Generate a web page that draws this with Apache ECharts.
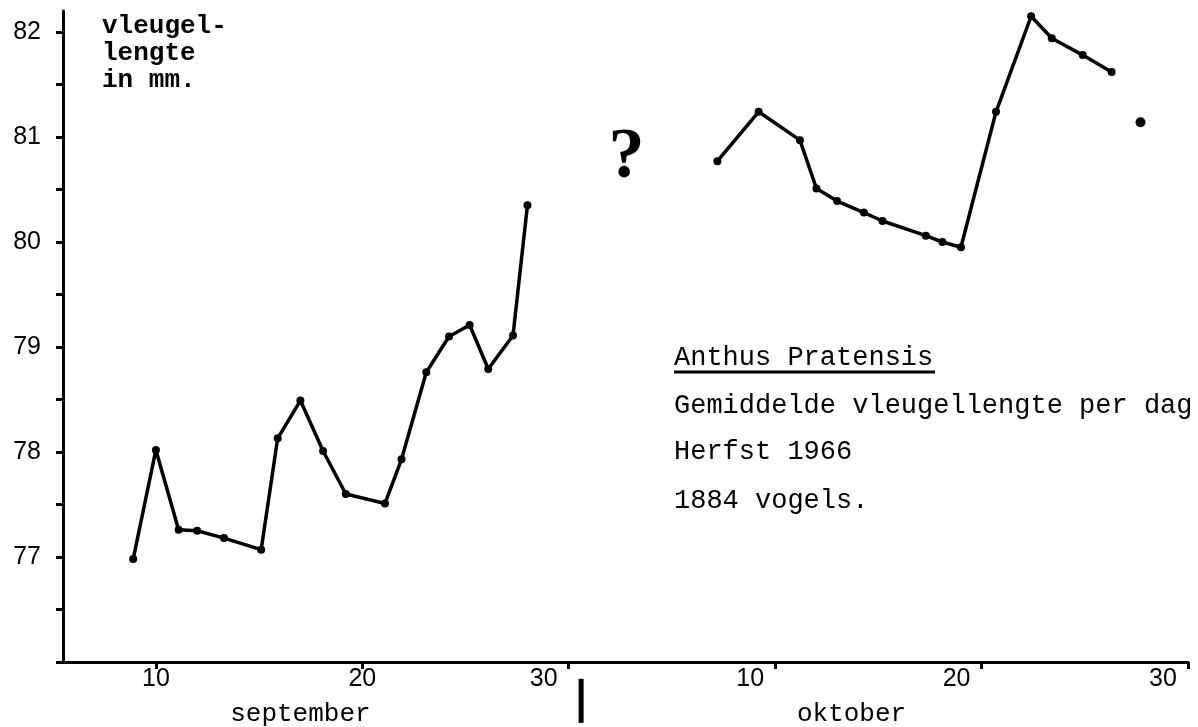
<!DOCTYPE html>
<html>
<head>
<meta charset="utf-8">
<script src="https://cdn.jsdelivr.net/npm/echarts@6.0.0/dist/echarts.min.js"></script>
<style>
  html, body { margin: 0; padding: 0; background: #fff; }
  #main { width: 1198px; height: 727px; }
</style>
</head>
<body>
<div id="main"></div>
<script>
// ---- data (x = day number, Sept d -> d, Oct d -> 30 + d) ----
const septDays = [8.9, 10.0, 11.1, 12.0, 13.3, 15.1, 15.9, 17.0, 18.1, 19.2, 21.1, 21.9, 23.1, 24.2, 25.2, 26.1, 27.3, 28.0];
const septWing = [76.98, 78.02, 77.26, 77.25, 77.18, 77.07, 78.13, 78.49, 78.01, 77.60, 77.51, 77.93, 78.76, 79.10, 79.21, 78.79, 79.11, 80.35];
const octDays = [37.2, 39.2, 41.2, 42.0, 43.0, 44.3, 45.2, 47.3, 48.1, 49.0, 50.7, 52.4, 53.4, 54.9, 56.3];
const octWing = [80.77, 81.24, 80.97, 80.51, 80.39, 80.28, 80.20, 80.06, 80.00, 79.95, 81.24, 82.15, 81.94, 81.78, 81.62];
const loneDay = [57.7];
const loneWing = [81.14];
const questionDay = [32.8];
const questionWing = [80.80];
const monthBreakDay = [30.6];

const xTickDays = [10, 20, 30, 40, 50, 60];
const xTickLabels = ['10', '20', '30', '10', '20', '30'];
const monthNames = ['september', 'oktober'];
const monthMidDays = [17, 43.7];
const yLabelValues = [77, 78, 79, 80, 81, 82];
const yTickValues = [76, 76.5, 77, 77.5, 78, 78.5, 79, 79.5, 80, 80.5, 81, 81.5, 82];

const titleLines = ['Anthus Pratensis', 'Gemiddelde vleugellengte per dag', 'Herfst 1966', '1884 vogels.'];
const yAxisTitle = 'vleugel-\nlengte\nin mm.';

// ---- chart ----
const zip = (a, b) => a.map((v, i) => [v, b[i]]);
const chart = echarts.init(document.getElementById('main'), null, { renderer: 'canvas' });

const MONO = '"Liberation Mono", "DejaVu Sans Mono", monospace';
const SANS = '"Liberation Sans", Arial, sans-serif';

const lineSeries = (d, w) => ({
  type: 'line',
  data: zip(d, w),
  clip: false,
  symbol: 'circle',
  symbolSize: 8,
  lineStyle: { color: '#000', width: 3.5 },
  itemStyle: { color: '#000', opacity: 1 },
  z: 5
});

const option = {
  backgroundColor: '#ffffff',
  animation: false,
  grid: { left: 63, right: 10, top: 11, bottom: 62, containLabel: false },
  xAxis: [{
    type: 'value', min: 5.5, max: 60,
    axisLine: { show: true, onZero: false, lineStyle: { color: '#000', width: 3 } },
    axisTick: { show: true, customValues: xTickDays, length: 7, lineStyle: { color: '#000', width: 3 } },
    axisLabel: {
      customValues: xTickDays,
      margin: 5,
      color: '#000', fontSize: 25, fontFamily: SANS,
      formatter: v => {
        const i = xTickDays.indexOf(v);
        const t = i >= 0 ? xTickLabels[i] : '';
        return i >= 2 ? '{l|' + t + '}' : '{c|' + t + '}';
      },
      rich: {
        c: { fontSize: 25, fontFamily: SANS, color: '#000' },
        l: { fontSize: 25, fontFamily: SANS, color: '#000', padding: [0, 50, 0, 0] }
      }
    },
    splitLine: { show: false }
  }, {
    type: 'value', min: 5.5, max: 60, position: 'bottom',
    axisLine: { show: false }, axisTick: { show: false }, splitLine: { show: false },
    axisLabel: {
      customValues: monthMidDays,
      margin: 39,
      color: '#000', fontSize: 26, fontFamily: MONO,
      formatter: v => { const i = monthMidDays.indexOf(v); return i >= 0 ? monthNames[i] : ''; }
    }
  }],
  yAxis: {
    type: 'value', min: 76, max: 82.2,
    axisLine: { show: true, onZero: false, lineStyle: { color: '#000', width: 3 } },
    axisTick: { show: true, customValues: yTickValues, length: 7, lineStyle: { color: '#000', width: 3 } },
    axisLabel: {
      customValues: yLabelValues,
      margin: 22, color: '#000', fontSize: 25, fontFamily: SANS,
      formatter: v => String(v)
    },
    splitLine: { show: false }
  },
  series: [
    lineSeries(septDays, septWing),
    lineSeries(octDays, octWing),
    {
      type: 'scatter', data: zip(loneDay, loneWing), clip: false,
      symbol: 'circle', symbolSize: 10, itemStyle: { color: '#000', opacity: 1 }
    },
    {
      type: 'scatter', data: zip(questionDay, questionWing), clip: false,
      symbolSize: 0, itemStyle: { opacity: 1 },
      label: { show: true, position: 'inside', formatter: '?', fontSize: 72, fontWeight: 'bold',
               fontFamily: '"Liberation Serif", serif', color: '#000', opacity: 1 }
    },
    {
      type: 'scatter', data: monthBreakDay.map(d => [d, 75.63]), clip: false,
      symbol: 'rect', symbolSize: [5, 44], itemStyle: { color: '#000', opacity: 1 }
    }
  ],
  graphic: [
    {
      type: 'text', left: 102, top: 13,
      style: { text: yAxisTitle, font: 'bold 26px ' + MONO, fill: '#000', lineHeight: 27 }
    },
    ...titleLines.map((t, i) => ({
      type: 'text', left: 674, top: [344, 392, 438, 487][i],
      style: { text: t, font: '27px ' + MONO, fill: '#000' }
    })),
    {
      type: 'line', shape: { x1: 674, y1: 372, x2: 935, y2: 372 },
      style: { stroke: '#000', lineWidth: 3 }
    }
  ]
};
chart.setOption(option);
</script>
</body>
</html>
